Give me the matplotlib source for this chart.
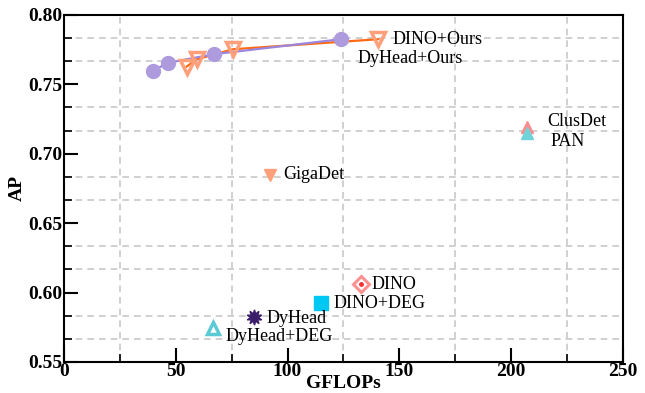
import numpy as np
import matplotlib
matplotlib.use("Agg")
import matplotlib.pyplot as plt
from matplotlib.ticker import MultipleLocator

plt.rcParams['font.family'] = ['Liberation Serif', 'DejaVu Serif']

# DyHead+Ours curve
dyhead_ours_x = [39.8, 46.5, 67.0, 123.8]
dyhead_ours_y = [0.7597, 0.7655, 0.7717, 0.7825]
# DINO+Ours curve
dino_ours_x = [54.9, 59.3, 75.7, 140.6]
dino_ours_y = [0.7628, 0.7680, 0.7753, 0.7825]

# single models
clusdet = (207.0, 0.7190)
pan = (207.0, 0.7148)
gigadet = (92.1, 0.6847)
dino = (132.8, 0.6060)
dino_deg = (114.8, 0.5923)
dyhead = (85.1, 0.5822)
dyhead_deg = (66.5, 0.5745)

fig = plt.figure(figsize=(6.45, 3.93), dpi=100)
ax = fig.add_axes([0.099, 0.079, 0.867, 0.883])

ax.plot(dyhead_ours_x, dyhead_ours_y, color='#9B87DE', lw=1.6, marker='o',
        ms=10, mfc='#AE9BDE', mec='#AE9BDE', zorder=3)
ax.plot(dino_ours_x, dino_ours_y, color='#FF6A13', lw=1.6, zorder=2)
ax.plot(dino_ours_x, dino_ours_y, ls='none', marker='v', ms=10, mfc='none',
        mec='#FFA07A', mew=2.5, zorder=4)

ax.plot(*clusdet, marker='^', ms=9, color='#FF8C8C', ls='none', zorder=3)
ax.plot(*pan, marker='^', ms=9, color='#6FD3D8', ls='none', zorder=4)
ax.plot(*gigadet, marker='v', ms=9, color='#FFA07A', ls='none', zorder=3)
ax.plot(*dino, marker='D', ms=8, mfc='white', mec='#FF9090', mew=2.2, ls='none', zorder=3)
ax.plot(*dino, marker='o', ms=2.5, color='#FF3030', ls='none', zorder=4)
ax.plot(*dino_deg, marker='s', ms=10, color='#00C8F5', ls='none', zorder=3)
ax.plot(*dyhead, marker=(10, 1, 0), ms=11, color='#3B1F6B', ls='none', zorder=3)
ax.plot(*dyhead_deg, marker='^', ms=9, mfc='white', mec='#5CCAD4', mew=2.5, ls='none', zorder=3)

labels = [
    ("DINO+Ours", (dino_ours_x[-1], dino_ours_y[-1]), (14, 0)),
    ("DyHead+Ours", (dyhead_ours_x[-1], dyhead_ours_y[-1]), (17, -19)),
    ("ClusDet", clusdet, (20, 6)),
    ("PAN", pan, (24, -8)),
    ("GigaDet", gigadet, (13, 0)),
    ("DINO", dino, (11, 0)),
    ("DINO+DEG", dino_deg, (13, 0)),
    ("DyHead", dyhead, (12, -1)),
    ("DyHead+DEG", dyhead_deg, (13, -9)),
]
for txt, xy, off in labels:
    ax.annotate(txt, xy=xy, xytext=off, textcoords='offset pixels',
                fontsize=13, va='center', ha='left', zorder=5)

ax.set_xlim(0, 250)
ax.set_ylim(0.55, 0.80)
ax.xaxis.set_major_locator(MultipleLocator(50))
ax.xaxis.set_minor_locator(MultipleLocator(25))
ax.yaxis.set_major_locator(MultipleLocator(0.05))
ax.yaxis.set_minor_locator(MultipleLocator(0.05 / 3))
ax.grid(True, which='minor', ls='--', color='#C8C8C8', lw=1.2, dashes=(4, 3))
ax.grid(False, which='major')

ax.tick_params(which='major', direction='in', length=10, width=1.5,
               labelsize=14, pad=1)
ax.tick_params(which='minor', direction='in', length=6, width=1.2)
for lab in ax.get_xticklabels() + ax.get_yticklabels():
    lab.set_fontweight('bold')
for s in ax.spines.values():
    s.set_linewidth(1.5)

ax.set_xlabel("GFLOPs", fontsize=14, fontweight='bold', labelpad=-4)
ax.set_ylabel("AP", fontsize=14, fontweight='bold', labelpad=2)

fig.savefig("out.png", dpi=100)
